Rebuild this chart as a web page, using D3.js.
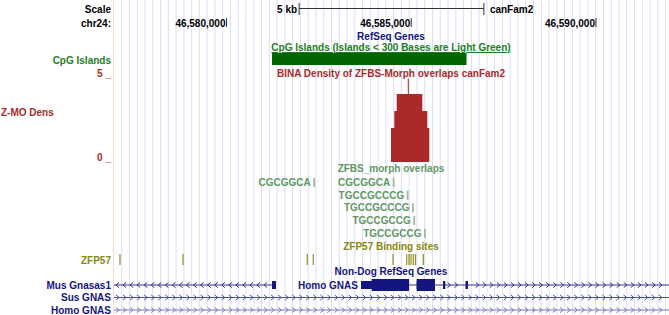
<!DOCTYPE html>
<html>
<head>
<meta charset="utf-8">
<script src="https://cdn.jsdelivr.net/npm/d3@7"></script>
<style>
body { margin: 0; background: #fff; }
text { font-family: "Liberation Sans", Arial, Helvetica, sans-serif; font-size: 10px; font-weight: bold; }
</style>
</head>
<body>
<script>
var w = 669;
var h = 315;
var left = 114;

// genomic window (chr24, canFam2)
var viewStart = 46576970;
var viewEnd = 46591990;
var chromTicks = [46580000, 46585000, 46590000];
var scaleBarStart = 46581980;
var scaleBarLength = 5000;

var cpgIslands = [[46581246, 46586510]];

// BINA density bins: start, end, value
var densityBins = [
    [46584466, 46584556, 2],
    [46584556, 46584621, 3],
    [46584621, 46584921, 4],
    [46584921, 46584948, 4.9],
    [46584948, 46585314, 4],
    [46585314, 46585449, 3],
    [46585449, 46585503, 2]
];

// ZFBS_morph overlaps: name, start, row
var zfbsNames = ["CGCGGCA", "CGCGGCA", "TGCCGCCCG", "TGCCGCCCG", "TGCCGCCG", "TGCCGCCG"];
var zfbsStarts = [46582364, 46584512, 46584891, 46585035, 46585070, 46585360];
var zfbsRows = [0, 0, 1, 2, 3, 4];
var zfbsLength = 50;

var zfp57Sites = [46577132, 46578837, 46582201, 46582364, 46584521, 46584891,
    46584954, 46585008, 46585070, 46585129, 46585341];

// Non-Dog RefSeq genes
var geneNames = ["Mus Gnasas1", "Homo GNAS", "Sus GNAS", "Homo GNAS"];
var geneRows = [0, 0, 1, 2];
var geneStrands = ["-", "+", "+", "+"];
var geneTx = [[46550000, 46581354], [46583654, 46640000], [46500000, 46640000], [46500000, 46640000]];
var geneCds = [[46581354, 46581354], [46583944, 46585657], [46500000, 46500000], [46500000, 46500000]];
var geneExons = [
    [[46581246, 46581354]],
    [[46583654, 46584954], [46585162, 46585657], [46585874, 46585936], [46586483, 46586550]],
    [],
    []
];

var red = "#aa2a2a", green = "#1f7d1f", cpgFill = "#006400", zfbsGreen = "#5f985f",
    olive = "#888811", navy = "#151580";
var geneLineColors = ["#34348e", "#5050a8", "#7878c0"];

var x = d3.scaleLinear().domain([viewStart, viewEnd]).range([left, w]);

var svg = d3.select("body").append("svg")
    .attr("width", w)
    .attr("height", h);

// guidelines
svg.selectAll("line.guide")
    .data(d3.range(left + 7.7, w, 7.77))
    .enter()
    .append("line")
    .attr("x1", d => d).attr("x2", d => d)
    .attr("y1", 0).attr("y2", h)
    .attr("stroke", "#dcdcff")
    .attr("stroke-width", 1);
svg.append("line")
    .attr("x1", left - 0.5).attr("x2", left - 0.5)
    .attr("y1", 0).attr("y2", h)
    .attr("stroke", "#ffd4d4");

function leftLabel(txt, y, color) {
    svg.append("text")
        .attr("x", 111).attr("y", y)
        .attr("text-anchor", "end")
        .attr("fill", color)
        .text(txt);
}
function centerTitle(txt, y, color) {
    return svg.append("text")
        .attr("x", 391).attr("y", y)
        .attr("text-anchor", "middle")
        .attr("fill", color)
        .text(txt);
}

// scale bar
leftLabel("Scale", 13, "#000");
var sb0 = x(scaleBarStart), sb1 = x(scaleBarStart + scaleBarLength);
svg.append("line").attr("x1", sb0).attr("x2", sb1).attr("y1", 8.5).attr("y2", 8.5).attr("stroke", "#333");
[sb0, sb1].forEach(px => {
    svg.append("line").attr("x1", px).attr("x2", px).attr("y1", 3).attr("y2", 15).attr("stroke", "#333");
});
svg.append("text").attr("x", sb0 - 2).attr("y", 13).attr("text-anchor", "end").text(scaleBarLength / 1000 + " kb");
svg.append("text").attr("x", sb1 + 6).attr("y", 13).text("canFam2");

// chromosome ruler
leftLabel("chr24:", 27, "#000");
var axis = d3.axisBottom(x).tickValues(chromTicks).tickSize(9).tickFormat(d3.format(","));
var ag = svg.append("g").attr("transform", "translate(0,18)").call(axis);
ag.select(".domain").remove();
ag.selectAll("line").attr("stroke", "#333");
ag.selectAll("text")
    .attr("y", 9).attr("dy", 0).attr("x", -1)
    .attr("text-anchor", "end")
    .attr("fill", "#000")
    .style("font-size", "10px")
    .style("font-family", "'Liberation Sans', Arial, sans-serif");

centerTitle("RefSeq Genes", 40, navy);

// CpG islands
centerTitle("CpG Islands (Islands < 300 Bases are Light Green)", 51, green)
    .style("text-decoration", "underline");
leftLabel("CpG Islands", 64, green);
svg.selectAll("rect.cpg")
    .data(cpgIslands)
    .enter()
    .append("rect")
    .attr("x", d => x(d[0]))
    .attr("width", d => x(d[1]) - x(d[0]))
    .attr("y", 53).attr("height", 12)
    .attr("fill", cpgFill);

// density track
var yD = d3.scaleLinear().domain([0, 5]).range([162, 77]);
centerTitle("BINA Density of ZFBS-Morph overlaps canFam2", 77, red);
leftLabel("5 _", yD(5) - 0.5, red);
leftLabel("0 _", yD(0) - 1.5, red);
svg.append("text").attr("x", 1).attr("y", 116).attr("fill", red).text("Z-MO Dens");
var densPoints = densityBins.map(d => [d[0], d[2]]);
var lastBin = densityBins[densityBins.length - 1];
densPoints.push([lastBin[1], lastBin[2]]);
var densArea = d3.area()
    .x(d => x(d[0]))
    .y0(yD(0))
    .y1(d => yD(d[1]))
    .curve(d3.curveStepAfter);
svg.append("path")
    .datum(densPoints)
    .attr("d", densArea)
    .attr("fill", red);

// ZFBS_morph overlaps
centerTitle("ZFBS_morph overlaps", 172, zfbsGreen);
var rowY = d3.scaleLinear().domain([0, 4]).range([178, 228.8]);
var zfbs = d3.range(zfbsNames.length).map(i => ({name: zfbsNames[i], start: zfbsStarts[i], row: zfbsRows[i]}));
svg.selectAll("rect.zfbs")
    .data(zfbs)
    .enter()
    .append("rect")
    .attr("x", d => x(d.start))
    .attr("width", d => Math.max(1.6, x(d.start + zfbsLength) - x(d.start)))
    .attr("y", d => rowY(d.row))
    .attr("height", 9)
    .attr("fill", "#a3b9a3");
svg.selectAll("text.zfbs")
    .data(zfbs)
    .enter()
    .append("text")
    .attr("x", d => x(d.start) - 2.5)
    .attr("y", d => rowY(d.row) + 8)
    .attr("text-anchor", "end")
    .attr("fill", zfbsGreen)
    .text(d => d.name);

// ZFP57 binding sites
centerTitle("ZFP57 Binding sites", 250, olive);
leftLabel("ZFP57", 264, olive);
svg.selectAll("line.zfp")
    .data(zfp57Sites)
    .enter()
    .append("line")
    .attr("x1", d => x(d)).attr("x2", d => x(d))
    .attr("y1", 254).attr("y2", 265)
    .attr("stroke", "#8f8f22")
    .attr("stroke-width", 1.2);

// Non-Dog RefSeq genes
centerTitle("Non-Dog RefSeq Genes", 274.5, navy);
var geneY = d3.scaleLinear().domain([0, 2]).range([285, 310]);
geneNames.forEach((name, i) => {
    var yc = geneY(geneRows[i]);
    var col = geneLineColors[geneRows[i]];
    var g = svg.append("g");
    var x0 = Math.max(left, x(geneTx[i][0]));
    var x1 = Math.min(w, x(geneTx[i][1]));
    g.append("line").attr("x1", x0).attr("x2", x1).attr("y1", yc).attr("y2", yc)
        .attr("stroke", col).attr("stroke-width", 1);
    // strand chevrons on introns
    var ex = geneExons[i].map(e => [x(e[0]), x(e[1])]);
    d3.range(x0 + 3.5, x1 - 2, 7.05).forEach(px => {
        if (ex.some(e => px > e[0] - 3 && px < e[1] + 3)) return;
        var dir = geneStrands[i] === "+" ? 1 : -1;
        g.append("path")
            .attr("d", "M" + (px - 1.6 * dir) + "," + (yc - 2.6) + "L" + (px + 1.6 * dir) + "," + yc + "L" + (px - 1.6 * dir) + "," + (yc + 2.6))
            .attr("fill", "none").attr("stroke", col).attr("stroke-width", 1);
    });
    // exons: thin (UTR) and thick (CDS) parts
    geneExons[i].forEach(e => {
        var s = e[0], en = e[1];
        var cs = geneCds[i][0], ce = geneCds[i][1];
        g.append("rect").attr("x", x(s)).attr("width", Math.max(1.5, x(en) - x(s)))
            .attr("y", yc - 4).attr("height", 8).attr("fill", navy);
        var ts = Math.max(s, cs), te = Math.min(en, ce);
        if (te > ts) {
            g.append("rect").attr("x", x(ts)).attr("width", x(te) - x(ts))
                .attr("y", yc - 6).attr("height", 12).attr("fill", navy);
        }
    });
    if (x(geneTx[i][0]) <= left) {
        leftLabel(name, yc + 3.5, navy);
    } else {
        svg.append("text").attr("x", x(geneTx[i][0]) - 3).attr("y", yc + 3.5)
            .attr("text-anchor", "end").attr("fill", navy).text(name);
    }
});
</script>
</body>
</html>
